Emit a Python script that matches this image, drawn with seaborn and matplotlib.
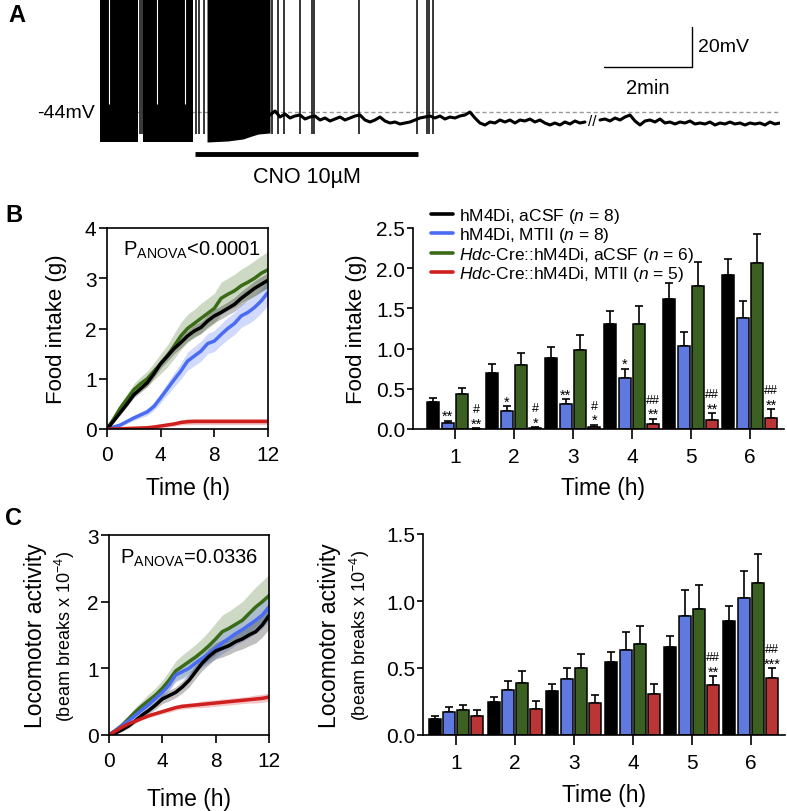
import numpy as np
import pandas as pd
import matplotlib
matplotlib.use("Agg")
import matplotlib.pyplot as plt
from matplotlib.lines import Line2D
import seaborn as sns

sns.set_theme(style="ticks")
plt.rcParams["font.family"] = ["Liberation Sans", "DejaVu Sans"]
plt.rcParams["mathtext.fontset"] = "custom"
plt.rcParams["mathtext.rm"] = "Liberation Sans"
plt.rcParams["mathtext.it"] = "Liberation Sans:italic"
plt.rcParams["mathtext.bf"] = "Liberation Sans:bold"
for key in ["text.color", "axes.labelcolor", "xtick.color", "ytick.color", "axes.edgecolor"]:
    plt.rcParams[key] = "black"
plt.rcParams["axes.linewidth"] = 1.2
plt.rcParams["xtick.major.width"] = 1.2
plt.rcParams["ytick.major.width"] = 1.2
plt.rcParams["xtick.direction"] = "out"
plt.rcParams["ytick.direction"] = "out"

# ---------------- Panel A data (minutes, mV) ----------------
rest_mv = -44
burst1_t = [0.0, 0.864]
burst1_bot = [-59, -59]
burst2_t = [0.977, 2.114]
burst2_bot = [-59, -59]
burst3_t = [2.432, 2.9, 3.25, 3.45, 3.6, 3.864]
burst3_bot = [-59, -58.5, -57.5, -56, -55, -54.5]
firing_gap_t = [0.205, 1.295, 1.93]
spike_t = [0.909, 0.955, 2.18, 2.25, 2.36, 3.91, 4.05, 4.18, 4.55, 4.82, 4.86,
           5.89, 7.20, 7.43, 7.48, 7.57]
spike_bottom = -55
spike_top = 20
sample_dt = 0.1136
seg1_start = 3.864
seg1_mv = [-45.5, -43.5, -46.5, -45, -47, -46, -45.5, -47.5, -46.5, -46, -48, -47,
           -48.5, -47.5, -46.5, -48, -47, -46, -45.5, -48, -49, -48, -46.5, -48.5,
           -49.5, -49, -50, -49.5, -49, -48, -47, -46.5, -46, -47, -46, -47.5,
           -46.5, -47, -46, -45.5, -44, -47, -49.5, -50.5, -49, -49.5, -48, -49,
           -48, -49.5, -48, -48.5, -47.5, -49, -48, -49.5, -50.5, -49.5, -50.5,
           -49, -50, -48.5, -49.5, -49]
seg2_start = 11.364
seg2_mv = [-48, -47.5, -48.5, -47, -48, -46.5, -45.5, -48.5, -50.5, -48.5, -48, -49,
           -47.5, -49.5, -49, -50, -49, -49.5, -48.5, -50, -49.5, -50, -49, -50.5,
           -49.5, -50, -49, -50, -49.5, -50.5, -49.5, -50, -49.5, -50.5, -49, -50,
           -49.5]
cno_start, cno_end = 2.16, 7.23

# ---------------- Panels B/C line data ----------------
t_hours = [0, 0.5, 1, 1.5, 2, 2.5, 3, 3.5, 4, 4.5, 5, 5.5, 6, 6.5, 7, 7.5, 8, 8.5,
           9, 9.5, 10, 10.5, 11, 11.5, 12]
groups = ["hM4Di, aCSF", "hM4Di, MTII", "Hdc-Cre::hM4Di, aCSF", "Hdc-Cre::hM4Di, MTII"]
colors = ["#000000", "#4a6cf4", "#3a6b16", "#d01f1f"]
legend_labels = [r"hM4Di, aCSF ($\mathit{n}$ = 8)",
                 r"hM4Di, MTII ($\mathit{n}$ = 8)",
                 r"$\mathit{Hdc}$-Cre::hM4Di, aCSF ($\mathit{n}$ = 6)",
                 r"$\mathit{Hdc}$-Cre::hM4Di, MTII ($\mathit{n}$ = 5)"]

food_black = [0, .16, .33, .5, .68, .8, .92, 1.1, 1.3, 1.45, 1.6, 1.72, 1.85, 1.95, 2.02,
              2.15, 2.25, 2.32, 2.4, 2.48, 2.6, 2.7, 2.8, 2.88, 2.96]
food_blue = [0, .04, .08, .15, .22, .28, .34, .45, .62, .8, .98, 1.15, 1.35, 1.45, 1.55,
             1.7, 1.75, 1.88, 2.0, 2.1, 2.25, 2.32, 2.42, 2.55, 2.72]
food_green = [0, .2, .42, .6, .78, .9, 1.0, 1.15, 1.3, 1.45, 1.65, 1.85, 2.0, 2.1, 2.2,
              2.3, 2.4, 2.6, 2.68, 2.75, 2.85, 2.92, 3.0, 3.1, 3.17]
food_red = [0, 0, .005, .01, .015, .02, .025, .04, .06, .08, .1, .13, .145, .15, .15,
            .15, .15, .15, .15, .15, .15, .15, .15, .15, .15]
food_black_sem = [0, .02, .04, .05, .06, .07, .08, .08, .09, .1, .1, .11, .11, .12, .12,
                  .12, .13, .13, .13, .14, .14, .14, .15, .15, .15]
food_blue_sem = [0, .02, .03, .04, .05, .06, .07, .08, .1, .12, .14, .16, .18, .19, .2,
                 .2, .21, .21, .22, .22, .23, .23, .24, .24, .25]
food_green_sem = [0, .05, .08, .1, .12, .14, .15, .17, .2, .22, .25, .27, .28, .28, .3,
                  .3, .3, .32, .32, .33, .33, .34, .35, .35, .36]
food_red_sem = [0, 0, .005, .01, .01, .015, .02, .02, .03, .04, .04, .05, .06, .06, .06,
                .06, .06, .06, .06, .06, .06, .06, .06, .06, .06]

loco_black = [0, .03, .08, .14, .22, .3, .37, .45, .54, .59, .64, .72, .82, .95, 1.08,
              1.18, 1.26, 1.3, 1.34, 1.4, 1.44, 1.5, 1.55, 1.65, 1.79]
loco_blue = [0, .07, .14, .22, .3, .38, .46, .55, .64, .75, .9, .95, 1.0, 1.08, 1.15,
             1.22, 1.3, 1.38, 1.45, 1.52, 1.58, 1.65, 1.72, 1.8, 1.92]
loco_green = [0, .07, .15, .25, .35, .44, .52, .6, .7, .82, .96, 1.03, 1.1, 1.17, 1.25,
              1.34, 1.44, 1.55, 1.6, 1.66, 1.72, 1.82, 1.92, 2.0, 2.09]
loco_red = [0, .06, .12, .17, .21, .25, .29, .32, .35, .38, .41, .43, .44, .45, .46,
            .47, .48, .49, .5, .51, .52, .53, .54, .55, .57]
loco_black_sem = [0, .01, .02, .03, .04, .05, .05, .06, .07, .08, .08, .09, .1, .1, .11,
                  .12, .12, .13, .13, .14, .15, .16, .17, .18, .2]
loco_blue_sem = [0, .01, .02, .03, .04, .05, .06, .07, .08, .09, .1, .11, .12, .12, .13,
                 .14, .15, .16, .17, .17, .18, .19, .2, .2, .21]
loco_green_sem = [0, .02, .04, .05, .07, .08, .1, .11, .12, .14, .15, .17, .18, .19, .2,
                  .22, .24, .25, .26, .27, .28, .29, .3, .31, .32]
loco_red_sem = [0, .01, .01, .02, .02, .02, .03, .03, .03, .04, .04, .04, .04, .04, .05,
                .05, .05, .05, .05, .05, .05, .05, .06, .06, .06]

# ---------------- Bar data ----------------
bar_hours = [1, 2, 3, 4, 5, 6]
food_bar_black = [0.33, 0.70, 0.885, 1.31, 1.62, 1.91]
food_bar_blue = [0.075, 0.22, 0.31, 0.64, 1.03, 1.38]
food_bar_green = [0.43, 0.80, 0.98, 1.30, 1.78, 2.07]
food_bar_red = [0.005, 0.012, 0.02, 0.066, 0.116, 0.137]
food_err_black = [0.06, 0.11, 0.135, 0.16, 0.19, 0.21]
food_err_blue = [0.025, 0.06, 0.06, 0.11, 0.18, 0.21]
food_err_green = [0.08, 0.15, 0.195, 0.23, 0.30, 0.36]
food_err_red = [0.005, 0.013, 0.034, 0.064, 0.079, 0.108]
food_star_blue = ["**", "*", "**", "*", "", ""]
food_star_red = ["**", "*", "*", "**", "**", "**"]
food_hash_red = ["#", "#", "#", "##", "##", "##"]

loco_bar_black = [0.117, 0.246, 0.328, 0.542, 0.654, 0.85]
loco_bar_blue = [0.174, 0.336, 0.42, 0.634, 0.886, 1.02]
loco_bar_green = [0.19, 0.39, 0.50, 0.68, 0.943, 1.134]
loco_bar_red = [0.14, 0.197, 0.239, 0.308, 0.37, 0.428]
loco_err_black = [0.023, 0.038, 0.05, 0.078, 0.086, 0.115]
loco_err_blue = [0.036, 0.064, 0.08, 0.136, 0.194, 0.204]
loco_err_green = [0.034, 0.09, 0.107, 0.136, 0.174, 0.219]
loco_err_red = [0.05, 0.059, 0.061, 0.072, 0.07, 0.072]
loco_star_blue = ["", "", "", "", "", ""]
loco_star_red = ["", "", "", "", "**", "***"]
loco_hash_red = ["", "", "", "", "##", "##"]

W, H = 787, 812
TICK_FS = 15
LABEL_FS = 16.5
fig = plt.figure(figsize=(W / 100, H / 100), dpi=100)


def frac(x0, y0, x1, y1):
    return [x0 / W, 1 - y1 / H, (x1 - x0) / W, (y1 - y0) / H]


# ---------------- Panel A ----------------
axA = fig.add_axes(frac(100, 0, 780, 190))
axA.set_xlim(0, 680 / 44)
axA.set_ylim(-82.5, 12.5)
axA.axis("off")
axA.axhline(rest_mv, color="#9a9a9a", lw=1, ls=(0, (3, 2)), zorder=1)
for bt, bb in [(burst1_t, burst1_bot), (burst2_t, burst2_bot), (burst3_t, burst3_bot)]:
    axA.fill_between(bt, bb, spike_top, color="black", lw=0, zorder=2)
axA.vlines(firing_gap_t, -40, spike_top, color="white", lw=0.8, zorder=2.5)
axA.vlines(spike_t, spike_bottom, spike_top, color="black", lw=1.1, zorder=2)
seg1_t = seg1_start + sample_dt * np.arange(len(seg1_mv))
seg2_t = seg2_start + sample_dt * np.arange(len(seg2_mv))
axA.plot(seg1_t, seg1_mv, color="black", lw=2.2, zorder=3)
axA.plot(seg2_t, seg2_mv, color="black", lw=2.2, zorder=3)
axA.text((seg1_t[-1] + seg2_t[0]) / 2, -48.5, "//", ha="center", va="center", fontsize=11)
axA.plot([cno_start, cno_end], [-65, -65], color="black", lw=3.5, solid_capstyle="butt")
axA.text((cno_start + cno_end) / 2, -76.5, "CNO 10µM", ha="center", va="center", fontsize=15.5)
axA.plot([11.45, 13.45, 13.45], [-21.5, -21.5, -1.5], color="black", lw=1)
axA.text(13.6, -11, "20mV", ha="left", va="center", fontsize=14)
axA.text(12.45, -31.5, "2min", ha="center", va="center", fontsize=14.5)
axA.text(-0.11, rest_mv, "-44mV", ha="right", va="center", fontsize=14, clip_on=False)
fig.text(8 / W, 1 - 16 / H, "A", fontsize=17, fontweight="bold", va="center")


# ---------------- line panels ----------------
def line_panel(ax, means, sems, ymax, yticks):
    rows = []
    for g, m in zip(groups, means):
        for t, v in zip(t_hours, m):
            rows.append({"time": t, "value": v, "group": g})
    df = pd.DataFrame(rows)
    order = [2, 1, 0, 3]
    for i in order:
        lo = np.array(means[i]) - np.array(sems[i])
        hi = np.array(means[i]) + np.array(sems[i])
        ax.fill_between(t_hours, lo, hi, color=colors[i], alpha=0.25, lw=0)
    for i in order:
        sns.lineplot(data=df[df["group"] == groups[i]], x="time", y="value",
                     color=colors[i], lw=2.5, errorbar=None, legend=False, ax=ax)
    ax.set_xlim(0, 12)
    ax.set_ylim(0, ymax)
    ax.set_xticks([0, 4, 8, 12])
    ax.set_yticks(yticks)
    ax.tick_params(labelsize=TICK_FS, length=5.5)
    ax.tick_params(axis="x", pad=6)
    ax.tick_params(axis="y", pad=2)
    ax.set_xlabel("Time (h)", fontsize=LABEL_FS)
    ax.xaxis.label.set_va("center")


axB1 = fig.add_axes(frac(107, 229, 268, 430))
line_panel(axB1, [food_black, food_blue, food_green, food_red],
           [food_black_sem, food_blue_sem, food_green_sem, food_red_sem], 4, [0, 1, 2, 3, 4])
axB1.set_ylabel("Food intake (g)", fontsize=16)
axB1.yaxis.label.set_va("center")
axB1.yaxis.set_label_coords(-0.314, 0.5)
axB1.xaxis.set_label_coords(0.5, -0.2935)
axB1.text(0.53, 0.895, r"P$_{\mathrm{ANOVA}}$<0.0001", transform=axB1.transAxes,
          ha="center", va="center", fontsize=14.5)

axC1 = fig.add_axes(frac(109, 536, 269, 736))
line_panel(axC1, [loco_black, loco_blue, loco_green, loco_red],
           [loco_black_sem, loco_blue_sem, loco_green_sem, loco_red_sem], 3, [0, 1, 2, 3])
axC1.set_ylabel("")
axC1.text(-0.4625, 0.5, "Locomotor activity", transform=axC1.transAxes, rotation=90,
          ha="center", va="center", fontsize=16.5)
axC1.text(-0.275, 0.5, r"(beam breaks x 10$^{-4}$)", transform=axC1.transAxes, rotation=90,
          ha="center", va="center", fontsize=13)
axC1.xaxis.set_label_coords(0.5, -0.32)
axC1.text(0.5, 0.89, r"P$_{\mathrm{ANOVA}}$=0.0336", transform=axC1.transAxes,
          ha="center", va="center", fontsize=14.5)

fig.text(5 / W, 1 - 216 / H, "B", fontsize=17, fontweight="bold", va="center")
fig.text(5 / W, 1 - 519 / H, "C", fontsize=17, fontweight="bold", va="center")


# ---------------- bar panels ----------------
def bar_panel(ax, means, errs, stars_blue, stars_red, hash_red, ymax, yticks, xleft):
    rows = []
    for g, m in zip(groups, means):
        for h, v in zip(bar_hours, m):
            rows.append({"hour": h, "value": v, "group": g})
    df = pd.DataFrame(rows)
    sns.barplot(data=df, x="hour", y="value", hue="group", hue_order=groups,
                palette=colors, width=0.97, gap=0.16, edgecolor="black", linewidth=1.1,
                errorbar=None, legend=False, ax=ax, zorder=2)
    bar_conts = list(ax.containers)[:len(groups)]
    tops = {}
    for i, cont in enumerate(bar_conts):
        xs = [b.get_x() + b.get_width() / 2 for b in cont]
        hs = [b.get_height() for b in cont]
        ax.errorbar(xs, hs, yerr=[np.zeros(len(hs)), errs[i]], fmt="none",
                    ecolor="black", elinewidth=1.2, capsize=2.6, capthick=1.2, zorder=1)
        tops[i] = (xs, np.array(hs) + np.array(errs[i]))
    for k in range(len(bar_hours)):
        x, y = tops[1][0][k], tops[1][1][k]
        if stars_blue[k]:
            ax.annotate(stars_blue[k], (x, y), xytext=(0, 0.5), textcoords="offset points",
                        ha="center", va="baseline", fontsize=10.5)
        x, y = tops[3][0][k], tops[3][1][k]
        if stars_red[k]:
            ax.annotate(stars_red[k], (x, y), xytext=(0, 0.5), textcoords="offset points",
                        ha="center", va="baseline", fontsize=10.5)
        if hash_red[k]:
            ax.annotate(hash_red[k], (x, y), xytext=(0, 11.5), textcoords="offset points",
                        ha="center", va="baseline", fontsize=9)
    ax.set_xlim(xleft, 5.58)
    ax.set_ylim(0, ymax)
    ax.set_yticks(yticks)
    ax.set_yticklabels([f"{v:.1f}" for v in yticks])
    ax.set_xticks(range(6))
    ax.set_xticklabels([str(h) for h in bar_hours])
    sns.despine(ax=ax)
    ax.tick_params(labelsize=TICK_FS)
    ax.tick_params(axis="x", length=7, pad=6)
    ax.tick_params(axis="y", length=4, pad=1.5)
    ax.set_xlabel("Time (h)", fontsize=LABEL_FS)
    ax.xaxis.label.set_va("center")


axB2 = fig.add_axes(frac(413, 229, 784, 430))
bar_panel(axB2, [food_bar_black, food_bar_blue, food_bar_green, food_bar_red],
          [food_err_black, food_err_blue, food_err_green, food_err_red],
          food_star_blue, food_star_red, food_hash_red, 2.5,
          [0, 0.5, 1.0, 1.5, 2.0, 2.5], -0.71)
axB2.set_ylabel("Food intake (g)", fontsize=16)
axB2.yaxis.label.set_va("center")
axB2.yaxis.set_label_coords(-0.152, 0.5)
axB2.xaxis.set_label_coords(0.512, -0.2935)
handles = [Line2D([0], [0], color=c, lw=2.6) for c in colors]
axB2.legend(handles, legend_labels, loc="upper left", bbox_to_anchor=(431 / W, 1 - 207 / H),
            bbox_transform=fig.transFigure, frameon=False, fontsize=12.5,
            handlelength=1.25, handletextpad=0.35, labelspacing=0.02, borderpad=0,
            borderaxespad=0)

axC2 = fig.add_axes(frac(423, 535, 785, 736))
bar_panel(axC2, [loco_bar_black, loco_bar_blue, loco_bar_green, loco_bar_red],
          [loco_err_black, loco_err_blue, loco_err_green, loco_err_red],
          loco_star_blue, loco_star_red, loco_hash_red, 1.5,
          [0, 0.5, 1.0, 1.5], -0.56)
axC2.set_ylabel("")
axC2.text(-0.257, 0.5, "Locomotor activity", transform=axC2.transAxes, rotation=90,
          ha="center", va="center", fontsize=16.5)
axC2.text(-0.174, 0.5, r"(beam breaks x 10$^{-4}$)", transform=axC2.transAxes, rotation=90,
          ha="center", va="center", fontsize=13)
axC2.xaxis.set_label_coords(0.5, -0.2985)

fig.savefig("out.png", dpi=100)
